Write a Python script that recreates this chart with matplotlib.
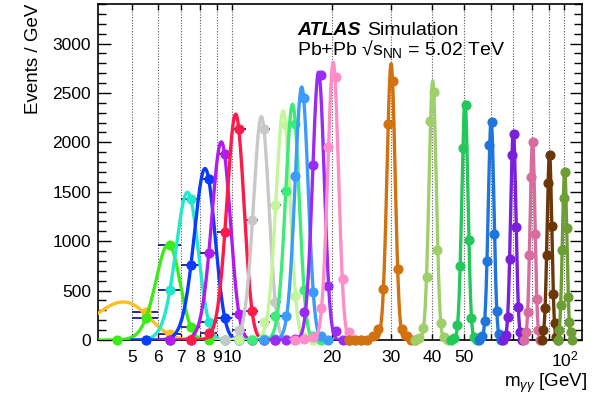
import numpy as np
import matplotlib
matplotlib.use("Agg")
import matplotlib.pyplot as plt
from matplotlib.ticker import FixedLocator, FixedFormatter, MultipleLocator

plt.rcParams['font.family'] = ['Liberation Sans', 'DejaVu Sans']
plt.rcParams['mathtext.fontset'] = 'custom'
plt.rcParams['mathtext.rm'] = 'Liberation Sans'
plt.rcParams['mathtext.it'] = 'Liberation Sans:italic'
plt.rcParams['mathtext.bf'] = 'Liberation Sans:bold'

# one histogram (1 GeV bins) + gaussian fit per generated mass point
colors = ['#FFBF1F', '#3DEB1A', '#22E8CC', '#0A3CFF', '#B31AF0', '#FF1A4A',
          '#C8C8C8', '#C4F59A', '#3CEB78', '#3C9BFF', '#9A2BF5', '#FF8DC8',
          '#D2710F', '#9FCF6A', '#22C95A', '#1F75DB', '#7A20DA', '#D86C9E',
          '#6B3708', '#6D9E34']

fit_mean = [4.7, 6.43, 7.34, 8.29, 9.28, 10.25, 12.25, 14.25, 15.2, 16.2,
            18.2, 20.15, 30.1, 40.15, 50.2, 60.2, 70.2, 80.2, 90.2, 100.2]
fit_sigma = [0.9, 0.54, 0.57, 0.6, 0.6, 0.61, 0.66, 0.7, 0.72, 0.74,
             0.74, 0.75, 0.85, 1.0, 1.07, 1.2, 1.3, 1.35, 1.45, 1.55]
fit_amp = [385, 970, 1495, 1735, 2005, 2285, 2260, 2320, 2385, 2560,
           2710, 2810, 2795, 2620, 2410, 2220, 2110, 2010, 1880, 1705]
fit_range = [(3.5, 8), (4, 10), (5, 11), (5, 12), (6, 13), (7, 14),
             (9, 16), (10, 18), (11, 19), (12, 20), (13, 23), (15, 25),
             (22, 36), (35, 45), (45, 55), (55, 65), (65, 75), (75, 85),
             (85, 96), (95, 106)]

first_bin = [5.5, 4.5, 5.5, 5.5, 6.5, 7.5, 9.5, 10.5, 11.5, 12.5,
             13.5, 15.5, 22.5, 35.5, 45.5, 55.5, 65.5, 75.5, 85.5, 95.5]
bin_values = [
    [285, 60, 8],
    [0, 225, 965, 130, 0, 0],
    [0, 507, 1430, 186, 2, 0],
    [0, 0, 754, 1634, 220, 0, 0],
    [0, 0, 880, 1878, 264, 0, 0],
    [0, 70, 1090, 2132, 294, 0, 0],
    [0, 100, 1218, 2132, 386, 5, 0],
    [0, 10, 186, 1363, 2180, 450, 30, 0],
    [0, 10, 247, 1506, 2190, 507, 40, 0],
    [0, 10, 244, 1658, 2453, 490, 40, 0],
    [0, 0, 10, 288, 1766, 2680, 548, 94, 0, 0],
    [0, 5, 30, 322, 1956, 2657, 616, 85, 0, 0],
    [0, 0, 0, 0, 40, 110, 517, 2183, 2620, 720, 110, 40, 0, 0],
    [0, 20, 120, 640, 2213, 2506, 914, 173, 30, 0],
    [0, 20, 152, 744, 1946, 2376, 1015, 220, 30, 0],
    [0, 40, 196, 795, 1970, 2206, 1076, 298, 60, 0],
    [0, 50, 237, 819, 1868, 2081, 1144, 338, 80, 0],
    [0, 85, 288, 863, 1650, 2003, 1076, 413, 100, 0],
    [0, 100, 322, 863, 1584, 1868, 1157, 467, 176, 30, 0],
    [0, 100, 355, 914, 1438, 1699, 1134, 440, 186, 80, 0],
]

xticks = [5, 6, 7, 8, 9, 10, 20, 30, 40, 50, 60, 70, 80, 90, 100]
xticklabels = ['5', '6', '7', '8', '9', '10', '20', '30', '40', '50',
               '', '', '', '', '$10^{2}$']

fig = plt.figure(figsize=(5.93, 3.97), dpi=100)
ax = fig.add_axes([0.1653, 0.1436, 0.8162, 0.8463])

for i in range(len(colors)):
    c = colors[i]
    z = 3 + i * 0.1
    # fit line
    xf = np.linspace(fit_range[i][0], fit_range[i][1], 400)
    yf = fit_amp[i] * np.exp(-0.5 * ((xf - fit_mean[i]) / fit_sigma[i]) ** 2)
    ax.plot(xf, yf, color=c, lw=2.4, zorder=z)
    # histogram points
    vals = np.array(bin_values[i], dtype=float)
    xc = first_bin[i] + np.arange(len(vals))
    ax.errorbar(xc, vals, xerr=0.5, fmt='none', ecolor='#1a1a8c',
                elinewidth=1.3, zorder=2)
    ax.plot(xc, vals, 'o', ms=6.3, color=c, mec=c, zorder=z + 0.05,
            clip_on=False)

ax.set_xscale('log')
ax.set_xlim(3.95, 113)
ax.set_ylim(0, 3400)

ax.xaxis.set_major_locator(FixedLocator(xticks))
ax.xaxis.set_major_formatter(FixedFormatter(xticklabels))
ax.xaxis.set_minor_locator(FixedLocator([]))
ax.yaxis.set_major_locator(MultipleLocator(500))
ax.yaxis.set_minor_locator(MultipleLocator(100))

ax.tick_params(axis='both', which='both', direction='in', top=True, right=True,
               labelsize=12.5, colors='black')
ax.tick_params(axis='y', which='major', length=9, width=1.0, pad=5)
ax.tick_params(axis='y', which='minor', length=6, width=1.0)
ax.tick_params(axis='x', which='major', length=4.5, width=1.0, pad=7)

ax.grid(axis='x', which='major', color='0.35', ls=(0, (1, 1.5)), lw=0.8)
ax.set_axisbelow(True)

for s in ax.spines.values():
    s.set_linewidth(1.2)

ax.set_ylabel('Events / GeV', fontsize=13.5, loc='top')
ax.yaxis.set_label_coords(-0.115, 1.0)
ax.set_xlabel(r'm$_{\gamma\gamma}$ [GeV]', fontsize=13.5, loc='right')
ax.xaxis.set_label_coords(1.01, -0.095)

ax.text(0.411, 0.908, 'ATLAS', transform=ax.transAxes, fontsize=14,
        fontweight='bold', fontstyle='italic', va='baseline')
ax.text(0.556, 0.908, 'Simulation', transform=ax.transAxes, fontsize=14,
        va='baseline')
ax.text(0.411, 0.848, 'Pb+Pb \u221as$_{\\mathrm{NN}}$ = 5.02 TeV',
        transform=ax.transAxes, fontsize=14, va='baseline')

fig.savefig('out.png', dpi=100)
